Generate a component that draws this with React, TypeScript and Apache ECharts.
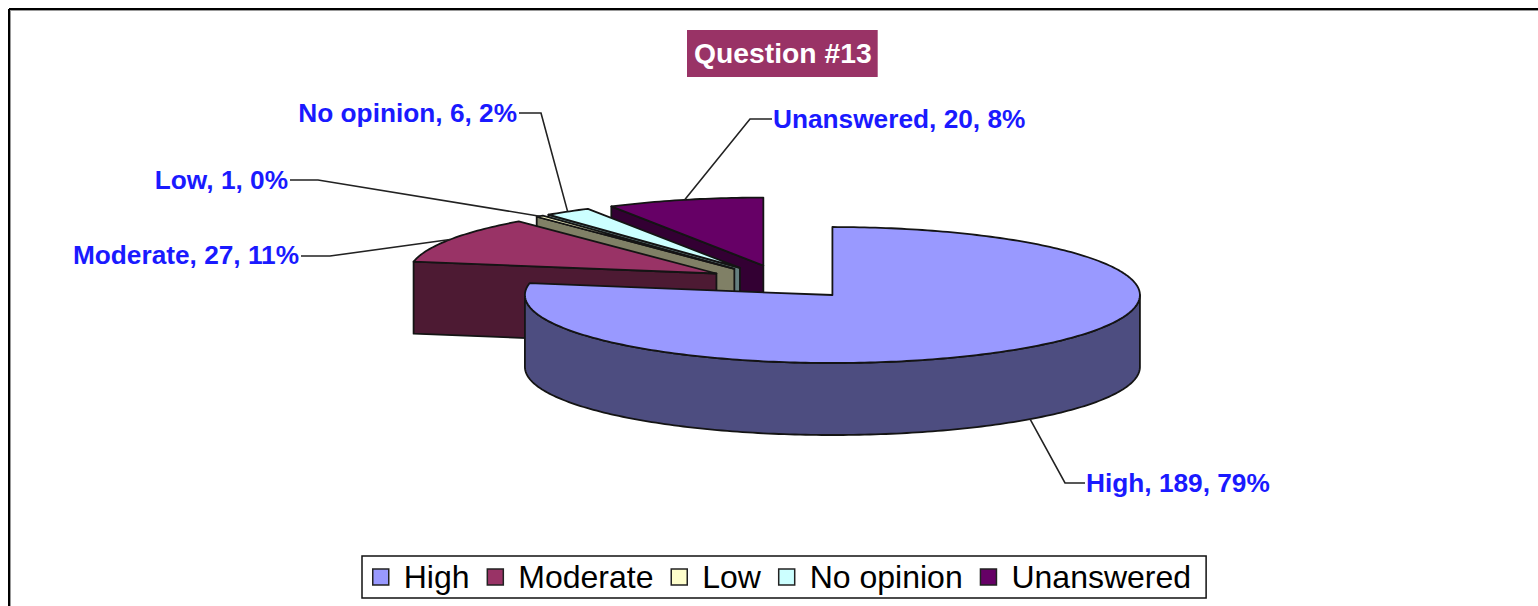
import React, { useEffect, useRef } from "react";
import * as echarts from "echarts";

// ---- data ----
const categories = ["High", "Moderate", "Low", "No opinion", "Unanswered"];
const counts = [189, 27, 1, 6, 20];
const percents = [79, 11, 0, 2, 8];
const chartTitle = "Question #13";

// ---- styles ----
const topColors = ["#9999FF", "#993366", "#FFFFCC", "#CCFFFF", "#660066"];
const wallColors = ["#4D4D80", "#4D1A33", "#808066", "#668080", "#330033"];
const FONT = '"Liberation Sans", Arial, sans-serif';
const OUTLINE = "#141414";

// ---- pie geometry ----
const CX = 783;
const CY = 282;
const RX = 307.5;
const RY = 68;
const DEPTH = 72;
const EXPLODE = 0.25;
const LABEL_SCALE = 1.05;

// leader elbow and label anchor per category
const elbows = [[1065, 483], [330, 256], [318, 180], [541, 113], [750, 119]];
const labelAnchors = [[1086, 483], [299, 255], [288, 180], [517, 113], [773, 119]];
const labelAlign = ["left", "right", "right", "right", "left"];

const total = counts.reduce((a, b) => a + b, 0);
const startAngles: number[] = [];
counts.reduce((acc, v, i) => {
  startAngles[i] = acc;
  return acc + (v / total) * 360;
}, 0);

const rad = (d: number) => (d * Math.PI) / 180;

function renderSlice(index: number) {
  return (_params: any, api: any) => {
    const value = api.value(0);
    const a0 = startAngles[index];
    const a1 = a0 + (value / total) * 360;
    const mid = (a0 + a1) / 2;
    const cx = CX + EXPLODE * RX * Math.sin(rad(mid));
    const cy = CY - EXPLODE * RY * Math.cos(rad(mid));
    const rim = (a: number, dy = 0) => [cx + RX * Math.sin(rad(a)), cy - RY * Math.cos(rad(a)) + dy];
    const arc = (from: number, to: number, dy = 0) => {
      const pts: number[][] = [];
      const n = Math.max(2, Math.ceil(Math.abs(to - from)));
      for (let k = 0; k <= n; k++) pts.push(rim(from + ((to - from) * k) / n, dy));
      return pts;
    };
    const face = (points: number[][], fill: string) => ({
      type: "polygon",
      shape: { points },
      style: { fill, stroke: OUTLINE, lineWidth: 1.8, lineJoin: "round" },
    });
    const children: any[] = [];
    if (Math.sin(rad(a0)) < -1e-6) {
      children.push(face([[cx, cy], rim(a0), rim(a0, DEPTH), [cx, cy + DEPTH]], wallColors[index]));
    }
    if (Math.sin(rad(a1)) > 1e-6) {
      children.push(face([[cx, cy], rim(a1), rim(a1, DEPTH), [cx, cy + DEPTH]], wallColors[index]));
    }
    const w0 = Math.max(a0, 90);
    const w1 = Math.min(a1, 270);
    if (w1 > w0) {
      children.push(face([...arc(w0, w1), ...arc(w1, w0, DEPTH)], wallColors[index]));
    }
    children.push(face([[cx, cy], ...arc(a0, a1)], topColors[index]));

    // leader line, anchored on the slice's outer rim at mid-angle
    const onFront = mid > 90 && mid < 270;
    const tip = rim(mid, onFront ? DEPTH : 0);
    const elbow = elbows[index];
    const anchor = labelAnchors[index];
    const left = labelAlign[index] === "left";
    children.push({
      type: "polyline",
      shape: { points: [tip, elbow, [anchor[0] + (left ? -1 : 2), elbow[1]]] },
      style: { fill: "none", stroke: "#222", lineWidth: 1.6 },
    });
    children.push({
      type: "text",
      x: anchor[0],
      y: anchor[1],
      scaleX: LABEL_SCALE,
      style: {
        text: `${categories[index]}, ${value}, ${percents[index]}%`,
        x: 0,
        y: 0,
        fill: "#1A1AFF",
        font: `bold 25px ${FONT}`,
        textAlign: labelAlign[index],
        textVerticalAlign: "middle",
      },
    });
    return { type: "group", children };
  };
}

export default function App() {
  const ref = useRef<HTMLDivElement>(null);
  useEffect(() => {
    const chart = echarts.init(ref.current!, undefined, { renderer: "svg" });
    // back slices first so that nearer slices cover them
    const order = [4, 3, 2, 1, 0];
    chart.setOption({
      animation: false,
      backgroundColor: "#FFFFFF",
      title: {
        text: chartTitle,
        left: 687,
        top: 30,
        padding: [8, 6, 10, 7],
        backgroundColor: "#993366",
        textStyle: { color: "#FFFFFF", fontFamily: FONT, fontWeight: "bold", fontSize: 28.3, lineHeight: 29 },
      },
      legend: {
        data: categories,
        left: 362,
        top: 556,
        orient: "horizontal",
        padding: [5, 15, 5, 10],
        itemGap: 17,
        itemWidth: 16,
        itemHeight: 16,
        icon: "rect",
        borderColor: "#111",
        borderWidth: 1.5,
        backgroundColor: "#FFF",
        selectedMode: false,
        itemStyle: { borderColor: "#222", borderWidth: 1.5 },
        textStyle: { color: "#000", fontFamily: FONT, fontSize: 32, lineHeight: 32, padding: [0, 0, 0, 10] },
      },
      graphic: [
        { type: "line", shape: { x1: 9, y1: 9, x2: 1538, y2: 9 }, style: { stroke: "#000", lineWidth: 2 } },
        { type: "line", shape: { x1: 9, y1: 9, x2: 9, y2: 606 }, style: { stroke: "#000", lineWidth: 2 } },
        { type: "line", shape: { x1: 10, y1: 10.5, x2: 1538, y2: 10.5 }, style: { stroke: "#999", lineWidth: 1 } },
        { type: "line", shape: { x1: 10.5, y1: 10, x2: 10.5, y2: 606 }, style: { stroke: "#999", lineWidth: 1 } },
      ],
      series: order.map((i) => ({
        type: "custom",
        name: categories[i],
        coordinateSystem: "none",
        silent: true,
        itemStyle: { color: topColors[i] },
        renderItem: renderSlice(i),
        data: [[counts[i]]],
      })),
    });
    return () => chart.dispose();
  }, []);
  return <div ref={ref} style={{ position: "absolute", left: 0, top: 0, width: 1538, height: 606 }} />;
}
